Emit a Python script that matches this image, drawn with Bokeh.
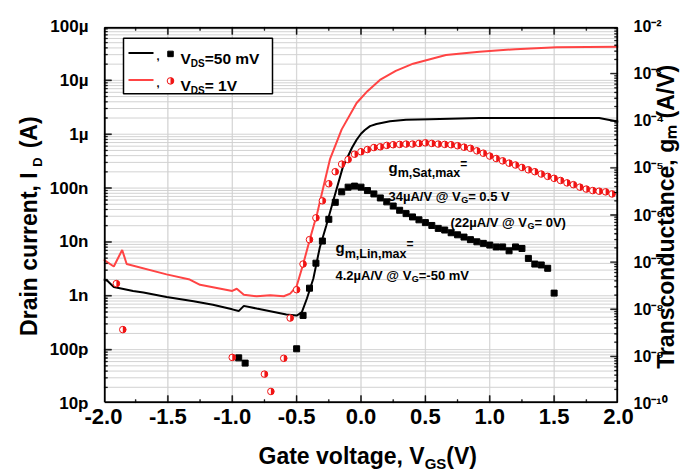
import math
from bokeh.plotting import figure
from bokeh.models import (Range1d, LogScale, LogAxis, LinearAxis, FixedTicker, Label,
                          CustomJSTickFormatter)
from bokeh.embed import file_html
from bokeh.resources import INLINE

# ---------------- data ----------------
vg_id_50mv = [-2.0, -1.97, -1.92, -1.77, -1.69, -1.51, -1.30, -1.15, -1.0, -0.95, -0.91, -0.81,
              -0.58, -0.50, -0.46, -0.42, -0.37, -0.32, -0.27, -0.215, -0.14, -0.11, -0.07,
              -0.034, 0.0, 0.03, 0.07, 0.12, 0.225, 0.35, 0.535, 0.92, 1.52, 1.85, 1.98, 2.0]
id_50mv = [2.0e-9, 1.9e-9, 1.45e-9, 1.23e-9, 1.15e-9, 9.5e-10, 7.9e-10, 6.8e-10, 5.6e-10, 5.2e-10,
           6.5e-10, 5.8e-10, 4.5e-10, 4.3e-10, 4.9e-10, 8.9e-10, 2.1e-9, 7.9e-9, 2.0e-8, 5.9e-8,
           2.5e-7, 3.5e-7, 5.6e-7, 7.9e-7, 1.02e-6, 1.2e-6, 1.41e-6, 1.55e-6, 1.74e-6, 1.85e-6,
           1.9e-6, 2.0e-6, 2.0e-6, 2.0e-6, 1.74e-6, 1.7e-6]
vg_id_1v = [-2.0, -1.92, -1.855, -1.82, -1.51, -1.33, -1.25, -1.0, -0.965, -0.91, -0.81, -0.705,
            -0.60, -0.55, -0.50, -0.45, -0.395, -0.34, -0.29, -0.24, -0.15, -0.034, 0.05, 0.147,
            0.27, 0.405, 0.66, 0.92, 1.2, 1.52, 2.0]
id_1v = [4.7e-9, 3.5e-9, 7.1e-9, 3.9e-9, 2.5e-9, 2.0e-9, 1.6e-9, 1.23e-9, 1.35e-9, 1.05e-9,
         9.8e-10, 1.02e-9, 9.8e-10, 1.1e-9, 1.5e-9, 3.8e-9, 1.17e-8, 3.4e-8, 1.1e-7, 3.5e-7,
         1.23e-6, 3.8e-6, 6.3e-6, 1.02e-5, 1.5e-5, 2.04e-5, 2.95e-5, 3.4e-5, 3.8e-5, 4.1e-5,
         4.2e-5]
vg_gm_50mv = [-0.95, -0.9, -0.5, -0.45, -0.4, -0.35, -0.3, -0.25, -0.2, -0.15, -0.1, -0.05, 0.0,
              0.05, 0.1, 0.15, 0.2, 0.25, 0.3, 0.35, 0.4, 0.45, 0.5, 0.55, 0.6, 0.65, 0.7, 0.75,
              0.8, 0.85, 0.9, 0.95, 1.0, 1.05, 1.1, 1.15, 1.2, 1.25, 1.3, 1.35, 1.4, 1.45, 1.5]
gm_50mv = [9.3e-10, 7.2e-10, 1.45e-9, 7.4e-9, 2.8e-8, 9.5e-8, 2.8e-7, 8.1e-7, 1.86e-6, 3.1e-6,
           3.9e-6, 4.1e-6, 3.9e-6, 3.3e-6, 2.8e-6, 2.3e-6, 1.9e-6, 1.55e-6, 1.26e-6, 1.07e-6,
           9.1e-7, 7.9e-7, 6.9e-7, 6.0e-7, 5.2e-7, 4.8e-7, 4.2e-7, 3.8e-7, 3.4e-7, 3.0e-7, 2.7e-7,
           2.5e-7, 2.3e-7, 2.1e-7, 2.1e-7, 1.74e-7, 2.1e-7, 1.95e-7, 1.2e-7, 9.1e-8, 8.7e-8,
           7.4e-8, 2.2e-8]
vg_gm_1v = [-1.9, -1.85, -1.0, -0.75, -0.7, -0.6, -0.55, -0.5, -0.45, -0.4, -0.35, -0.3, -0.25,
            -0.2, -0.15, -0.1, -0.05, 0.0, 0.05, 0.1, 0.15, 0.2, 0.25, 0.3, 0.35, 0.4, 0.45, 0.5,
            0.55, 0.6, 0.65, 0.7, 0.75, 0.8, 0.85, 0.9, 0.95, 1.0, 1.05, 1.1, 1.15, 1.2, 1.25,
            1.3, 1.35, 1.4, 1.45, 1.5, 1.55, 1.6, 1.65, 1.7, 1.75, 1.8, 1.85, 1.9, 1.95]
gm_1v = [3.5e-8, 3.7e-9, 9.5e-10, 4.2e-10, 1.8e-10, 9.1e-10, 6.5e-9, 2.6e-8, 9.1e-8, 3.0e-7,
         8.7e-7, 2.0e-6, 4.6e-6, 8.3e-6, 1.2e-5, 1.5e-5, 1.95e-5, 2.2e-5, 2.45e-5, 2.7e-5, 2.8e-5,
         3.0e-5, 3.1e-5, 3.15e-5, 3.2e-5, 3.2e-5, 3.3e-5, 3.4e-5, 3.3e-5, 3.2e-5, 3.15e-5, 3.1e-5,
         2.95e-5, 2.75e-5, 2.6e-5, 2.3e-5, 2.05e-5, 1.78e-5, 1.58e-5, 1.41e-5, 1.26e-5, 1.15e-5,
         1.02e-5, 9.1e-6, 8.3e-6, 7.4e-6, 6.6e-6, 6.0e-6, 5.4e-6, 4.8e-6, 4.4e-6, 3.9e-6,
         3.55e-6, 3.3e-6, 3.2e-6, 3.1e-6, 2.8e-6]

x_ticks = [-2.0, -1.5, -1.0, -0.5, 0.0, 0.5, 1.0, 1.5, 2.0]
x_tick_labels = ["-2.0", "-1.5", "-1.0", "-0.5", "0.0", "0.5", "1.0", "1.5", "2.0"]
id_ticks = [1e-11, 1e-10, 1e-9, 1e-8, 1e-7, 1e-6, 1e-5, 1e-4]
id_tick_labels = ["10p", "100p", "1n", "10n", "100n", "1\u00b5", "10\u00b5", "100\u00b5"]
gm_ticks = [1e-10, 1e-9, 1e-8, 1e-7, 1e-6, 1e-5, 1e-4, 1e-3, 1e-2]
gm_tick_labels = ["10\u207b\u00b9\u2070", "10\u207b\u2079", "10\u207b\u2078", "10\u207b\u2077",
                  "10\u207b\u2076", "10\u207b\u2075", "10\u207b\u2074", "10\u207b\u00b3",
                  "10\u207b\u00b2"]

# ---------------- layout ----------------
W, H = 697, 474
FL, FR, FT, FB = 103, 618, 26, 407
X0, X1 = -2.0, 2.0
LY0, LY1 = -11.0, -4.0
GY0, GY1 = -10.0, -2.0
FONT = "Liberation Sans"
RED_LINE = "#ff4444"
RED_MARK = "#f01414"
GRID = "#d2d2d2"

p = figure(width=W, height=H, x_range=Range1d(X0, X1), y_range=Range1d(10**LY0, 10**LY1),
           y_axis_type="log", output_backend="svg", toolbar_location=None,
           min_border_left=FL, min_border_right=W - FR, min_border_top=FT,
           min_border_bottom=H - FB)
p.title.visible = False
p.outline_line_color = None
p.xgrid.visible = False
p.ygrid.visible = False
p.extra_y_ranges = {"gm": Range1d(10**GY0, 10**GY1)}
p.extra_y_scales = {"gm": LogScale()}

x_minor = [t + 0.25 for t in x_ticks[:-1]]
id_minor = [m * t for t in id_ticks[:-1] for m in range(2, 10)]
gm_minor = [m * t for t in gm_ticks[:-1] for m in range(2, 10)]

FMT_CODE = """
let best = 0;
for (let i = 1; i < tv.length; i++) {
  if (Math.abs(tv[i] - tick) < Math.abs(tv[best] - tick)) best = i;
}
return lb[best];
"""


def label_formatter(positions, labels):
    return CustomJSTickFormatter(args=dict(tv=list(positions), lb=list(labels)), code=FMT_CODE)


def quiet(ax, size, standoff, orientation="horizontal"):
    ax.axis_line_color = None
    ax.major_tick_line_color = None
    ax.minor_tick_line_color = None
    ax.major_tick_in = 0
    ax.major_tick_out = 0
    ax.minor_tick_in = 0
    ax.minor_tick_out = 0
    ax.major_label_text_font = FONT
    ax.major_label_text_font_style = "bold"
    ax.major_label_text_font_size = f"{size}px"
    ax.major_label_text_color = "black"
    ax.major_label_standoff = standoff
    ax.major_label_orientation = orientation


def px_to_x(px):
    return X0 + (px - FL) / (FR - FL) * (X1 - X0)


def x_to_px(x):
    return FL + (x - X0) / (X1 - X0) * (FR - FL)


def py_to_id(py):
    return 10 ** (LY1 - (py - FT) / (FB - FT) * (LY1 - LY0))


def id_to_py(v):
    return FT + (LY1 - math.log10(v)) / (LY1 - LY0) * (FB - FT)


def gm_to_py(v):
    return FT + (GY1 - math.log10(v)) / (GY1 - GY0) * (FB - FT)


# tick labels
xax = p.xaxis[0]
xax.ticker = FixedTicker(ticks=x_ticks, minor_ticks=[])
xax.formatter = label_formatter(x_ticks, x_tick_labels)
quiet(xax, 22, 5)

yax = p.yaxis[0]
yax.ticker = FixedTicker(ticks=id_ticks, minor_ticks=[])
yax.formatter = label_formatter(id_ticks, id_tick_labels)
quiet(yax, 17, 15)

gax = LogAxis(y_range_name="gm", ticker=FixedTicker(ticks=gm_ticks, minor_ticks=[]),
              formatter=label_formatter(gm_ticks, gm_tick_labels))
quiet(gax, 16, 15)
p.add_layout(gax, "right")


def text_axis(side, positions, texts, size, standoff, orientation="horizontal"):
    tk = FixedTicker(ticks=positions, minor_ticks=[])
    fmt = label_formatter(positions, texts)
    ax = LogAxis(ticker=tk, formatter=fmt) if side in ("left", "right") else \
        LinearAxis(ticker=tk, formatter=fmt)
    quiet(ax, size, standoff, orientation)
    p.add_layout(ax, side)


# axis titles (carried by label-only axes so they sit outside the plot area)
text_axis("right", [py_to_id(372)], ["Transconductance, g\u2098 (A/V)"], 23, -4,
          orientation=math.pi / 2)
text_axis("left", [py_to_id(163)], ["D"], 13, 1, orientation="vertical")
text_axis("left", [py_to_id(256), py_to_id(133)], ["Drain current, I", "(A)"], 23, -15,
          orientation="vertical")
text_axis("below", [px_to_x(341.1), px_to_x(461.2)], ["Gate voltage, V", "(V)"], 23, 16)
text_axis("below", [px_to_x(435)], ["GS"], 15, -17)

# ---------------- grid ----------------
E = 0.6                        # keep structural marks strictly inside the plot area
XL, XR = px_to_x(FL + E), px_to_x(FR - E)
YB, YT = py_to_id(FB - E), py_to_id(FT + E)
gy = id_ticks[1:-1] + id_minor
p.multi_line(xs=[[XL, XR]] * len(gy), ys=[[v, v] for v in gy], line_color=GRID, line_width=1)
gx = x_ticks[1:-1]
p.quad(left=[px_to_x(x_to_px(t) - 0.2) for t in gx], right=[px_to_x(x_to_px(t) + 0.2) for t in gx],
       top=[YT] * len(gx), bottom=[YB] * len(gx), fill_color=GRID, line_color=GRID,
       line_width=0.6)

# legend box
p.quad(left=[px_to_x(123)], right=[px_to_x(272)], top=[py_to_id(38)], bottom=[py_to_id(94)],
       fill_color="white", line_color="black", line_width=1.5)

# ---------------- data glyphs ----------------
p.line(vg_id_50mv, id_50mv, line_color="black", line_width=2)
p.line(vg_id_1v, id_1v, line_color=RED_LINE, line_width=2)
p.scatter(vg_gm_50mv, gm_50mv, marker="square", size=6, fill_color="black", line_color="black",
          y_range_name="gm")
p.scatter(vg_gm_1v, gm_1v, marker="circle", size=6.6, fill_color="white", line_color=RED_MARK,
          line_width=1, y_range_name="gm")
p.wedge(vg_gm_1v, gm_1v, radius=3.3, radius_units="screen", start_angle=-math.pi / 2,
        end_angle=math.pi / 2, fill_color=RED_MARK, line_color=None, y_range_name="gm")

# ---------------- legend entries and annotations ----------------
ADV = {' ': 278, '(': 333, ')': 333, ',': 278, '-': 333, '.': 278, '/': 278, '=': 584, '@': 975,
       'A': 722, 'D': 722, 'G': 778, 'I': 278, 'L': 611, 'S': 667, 'T': 611, 'V': 667, 'a': 556,
       'c': 556, 'd': 611, 'e': 556, 'g': 611, 'i': 278, 'l': 278, 'm': 889, 'n': 611, 'o': 611,
       'r': 389, 's': 556, 't': 333, 'u': 611, 'v': 556, 'x': 556, 'y': 556, '\u00b5': 611}


def text_width(s, size):
    return sum(ADV.get(ch, 556) for ch in s) * size / 1000.0


def rich(pieces, px, py):
    pos = 0.0
    for txt, size, dy in pieces:
        p.add_layout(Label(x=px_to_x(px + pos), y=py_to_id(py + dy), text=txt,
                           text_font=FONT, text_font_style="bold",
                           text_font_size=f"{size}px", text_color="black",
                           text_baseline="alphabetic", text_align="left"))
        pos += text_width(txt, size)


for row_y, color, kind, label in [(52.7, "black", "square", "=50 mV"),
                                  (80.0, RED_LINE, "circle", "= 1V")]:
    p.line([px_to_x(128), px_to_x(153)], [py_to_id(row_y)] * 2, line_color=color, line_width=2)
    xm, ym = px_to_x(170), py_to_id(row_y + 1)
    if kind == "square":
        p.scatter([xm], [ym], marker="square", size=5.5, fill_color="black", line_color="black")
    else:
        p.scatter([xm], [ym], marker="circle", size=6.6, fill_color="white",
                  line_color=RED_MARK, line_width=1)
        p.wedge([xm], [ym], radius=3.3, radius_units="screen", start_angle=-math.pi / 2,
                end_angle=math.pi / 2, fill_color=RED_MARK, line_color=None)
    rich([(",", 11, 0)], 156, row_y + 3.3)
    rich([("V", 15.5, 0), ("DS", 10, 4.5), (label, 15.5, 0)], 180, row_y + 5.8)

rich([("g", 15, 0), ("m,Sat,max", 12.5, 6.5), ("=", 12, -3.5)], 388, 168)
rich([("34\u00b5A/V @ V", 13, 0), ("G", 9, 3.5), ("= 0.5 V", 13, 0)], 388, 198)
rich([("(22\u00b5A/V @ V", 13, 0), ("G", 9, 3.5), ("= 0V)", 13, 0)], 450, 224.5)
rich([("g", 15, 0), ("m,Lin,max", 12.5, 6.5), ("=", 12, -3.5)], 335, 249.5)
rich([("4.2\u00b5A/V @ V", 13, 0), ("G", 9, 3.5), ("=-50 mV", 13, 0)], 335, 277.5)

# ---------------- inward ticks and frame, as thin stroked bars inside the plot area --------
bars = {"l": [], "r": [], "t": [], "b": []}


def hbar(x_a, x_b, py, half):
    bars["l"].append(px_to_x(x_a))
    bars["r"].append(px_to_x(x_b))
    bars["t"].append(py_to_id(py - half))
    bars["b"].append(py_to_id(py + half))


def vbar(px, y_a, y_b, half):
    bars["l"].append(px_to_x(px - half))
    bars["r"].append(px_to_x(px + half))
    bars["t"].append(py_to_id(y_a))
    bars["b"].append(py_to_id(y_b))


for v in id_ticks[1:-1]:
    hbar(FL + E, FL + 8, id_to_py(v), 0.5)
for v in id_minor:
    hbar(FL + E, FL + 4, id_to_py(v), 0.4)
for v in gm_ticks[1:-1]:
    hbar(FR - 8, FR - E, gm_to_py(v), 0.5)
for v in gm_minor:
    hbar(FR - 4, FR - E, gm_to_py(v), 0.4)
for t in x_ticks[1:-1]:
    vbar(x_to_px(t), FB - 8, FB - E, 0.5)
    vbar(x_to_px(t), FT + E, FT + 8, 0.5)
for t in x_minor:
    vbar(x_to_px(t), FB - 4, FB - E, 0.4)
    vbar(x_to_px(t), FT + E, FT + 4, 0.4)
p.quad(left=bars["l"], right=bars["r"], top=bars["t"], bottom=bars["b"],
       fill_color="black", line_color="black", line_width=0.4)

# frame as one closed line just inside the plot area
fx = [px_to_x(FL + 1.2), px_to_x(FR - 1.2), px_to_x(FR - 1.2), px_to_x(FL + 1.2),
      px_to_x(FL + 1.2)]
fy = [py_to_id(FB - 1.2), py_to_id(FB - 1.2), py_to_id(FT + 1.2), py_to_id(FT + 1.2),
      py_to_id(FB - 1.2)]
p.line(fx, fy, line_color="black", line_width=2)

open("out.html", "w").write(file_html(p, INLINE))
